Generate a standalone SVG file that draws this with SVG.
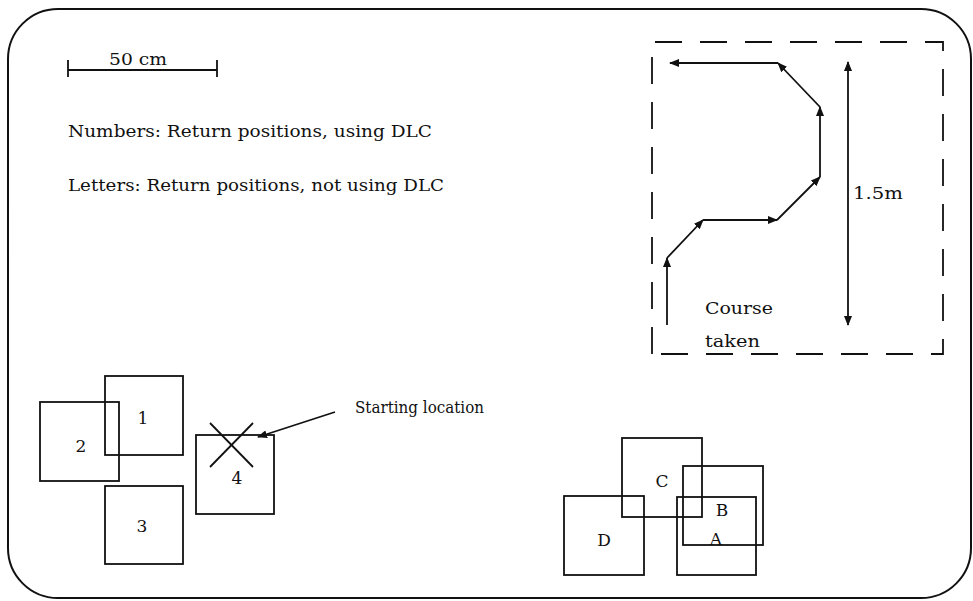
<svg xmlns="http://www.w3.org/2000/svg" width="973" height="601" viewBox="0 0 973 601">
<style>
  .t { font-family: "DejaVu Serif", "Liberation Serif", serif; font-size: 17.5px; fill: #111; }
  .lbl { font-family: "DejaVu Serif", "Liberation Serif", serif; font-size: 17px; fill: #111; text-anchor: middle; }
  .box { fill: none; stroke: #111; stroke-width: 1.8; }
  .ln { fill: none; stroke: #111; stroke-width: 1.8; }
  .dash { fill: none; stroke: #111; stroke-width: 1.8; stroke-dasharray: 27 18; }
</style>
<defs>
  <marker id="ah" markerUnits="userSpaceOnUse" markerWidth="10" markerHeight="8" refX="9" refY="4" orient="auto-start-reverse">
    <path d="M0,0 L10,4 L0,8 z" fill="#111"/>
  </marker>
</defs>
<rect width="973" height="601" fill="#fff"/>
<rect x="8" y="9" width="963" height="589" rx="50" ry="50" fill="none" stroke="#111" stroke-width="2"/>

<g id="scale">
  <line class="ln" x1="68" y1="70" x2="217" y2="70"/>
  <line class="ln" x1="68" y1="60" x2="68" y2="77"/>
  <line class="ln" x1="217" y1="60" x2="217" y2="77"/>
  <text class="lbl" x="138" y="65" textLength="58" lengthAdjust="spacingAndGlyphs">50 cm</text>
</g>

<g id="legend">
  <text class="t" x="68" y="137" textLength="364" lengthAdjust="spacingAndGlyphs">Numbers: Return positions, using DLC</text>
  <text class="t" x="68" y="191" textLength="376" lengthAdjust="spacingAndGlyphs">Letters: Return positions, not using DLC</text>
</g>

<g id="course">
  <path class="dash" d="M652,354 L652,42 L943,42 L943,354 Z"/>
  <line class="ln" x1="667" y1="325" x2="667" y2="258" marker-end="url(#ah)"/>
  <line class="ln" x1="667" y1="258" x2="703" y2="220" marker-end="url(#ah)"/>
  <line class="ln" x1="703" y1="220" x2="777" y2="220" marker-end="url(#ah)"/>
  <line class="ln" x1="777" y1="220" x2="820" y2="177" marker-end="url(#ah)"/>
  <line class="ln" x1="820" y1="177" x2="820" y2="107" marker-end="url(#ah)"/>
  <line class="ln" x1="820" y1="107" x2="778" y2="63" marker-end="url(#ah)"/>
  <line class="ln" x1="778" y1="63" x2="670" y2="63" marker-end="url(#ah)"/>
  <line class="ln" x1="848" y1="62" x2="848" y2="325" marker-start="url(#ah)" marker-end="url(#ah)"/>
  <text class="t" x="853" y="199" textLength="50" lengthAdjust="spacingAndGlyphs">1.5m</text>
  <text class="t" x="705" y="314" textLength="68" lengthAdjust="spacingAndGlyphs">Course</text>
  <text class="t" x="705" y="347" textLength="55" lengthAdjust="spacingAndGlyphs">taken</text>
</g>

<g id="box1"><rect class="box" x="105" y="376" width="78" height="79"/><text class="lbl" x="143" y="424">1</text></g>
<g id="box2"><rect class="box" x="40" y="402" width="79" height="79"/><text class="lbl" x="81" y="452">2</text></g>
<g id="box3"><rect class="box" x="105" y="486" width="78" height="78"/><text class="lbl" x="142" y="532">3</text></g>
<g id="box4"><rect class="box" x="196" y="435" width="78" height="79"/><text class="lbl" x="237" y="484">4</text>
  <line class="ln" x1="210" y1="423" x2="253" y2="467"/>
  <line class="ln" x1="253" y1="423" x2="210" y2="467"/>
</g>

<g id="start">
  <text class="t" x="355" y="413" textLength="129" lengthAdjust="spacingAndGlyphs">Starting location</text>
</g>

<g id="boxC"><rect class="box" x="622" y="438" width="80" height="79"/><text class="lbl" x="662" y="487">C</text></g>
<g id="boxD"><rect class="box" x="564" y="496" width="80" height="79"/><text class="lbl" x="604" y="546">D</text></g>
<g id="boxB"><rect class="box" x="683" y="466" width="80" height="79"/><text class="lbl" x="722" y="516">B</text></g>
<g id="boxA"><rect class="box" x="677" y="497" width="79" height="78"/><text class="lbl" x="716" y="545">A</text></g>

<g id="connectors">
  <line class="ln" x1="335" y1="412" x2="258" y2="437" marker-end="url(#ah)"/>
</g>
</svg>
